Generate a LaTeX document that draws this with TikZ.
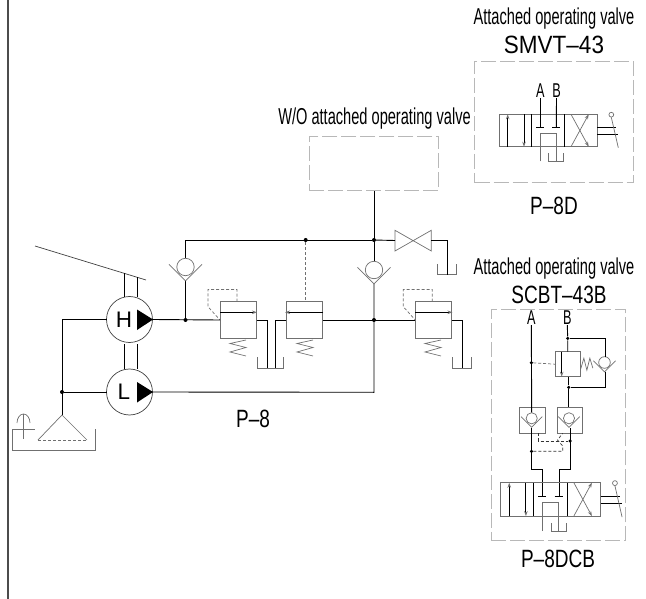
\documentclass[tikz,border=0pt]{standalone}
\usepackage{fontspec}
\setmainfont[FakeStretch=0.76]{Liberation Sans}
\newfontfamily\narrowfont[FakeStretch=0.635]{Liberation Sans}
\newfontfamily\widefont[FakeStretch=0.9]{Liberation Sans}
\newfontfamily\pumpfont{Liberation Sans}
\usetikzlibrary{arrows.meta}
\definecolor{symgray}{HTML}{707070}
\tikzset{
  oil/.style={black,line width=0.9pt},
  sym/.style={symgray,line width=0.7pt},
  symbox/.style={symgray,line width=0.9pt},
  pilot/.style={symgray,line width=0.7pt,dash pattern=on 3pt off 2pt},
  pilotdark/.style={black!80,line width=0.7pt,dash pattern=on 3pt off 2pt},
  frame/.style={black!28,line width=0.7pt,dash pattern=on 15pt off 4pt},
  dot/.style={circle,fill=black,inner sep=0pt,minimum size=4pt},
  pump/.style={circle,draw=black!75,line width=0.7pt,minimum size=46pt,inner sep=0pt,outer sep=0pt},
  valvebox/.style={draw=symgray,line width=0.9pt,inner sep=0pt,outer sep=0pt},
  caption/.style={inner sep=0pt,font=\narrowfont\fontsize{23}{23}\selectfont},
  bigcaption/.style={inner sep=0pt,font=\fontsize{25}{25}\selectfont},
  widecaption/.style={inner sep=0pt,font=\widefont\fontsize{25}{25}\selectfont},
  portlabel/.style={inner sep=0pt,font=\narrowfont\fontsize{20}{20}\selectfont},
  pumpletter/.style={inner sep=0pt,font=\pumpfont\fontsize{22.5}{22.5}\selectfont},
  tip/.style={-{Stealth[length=5pt,width=3.5pt,color=symgray]}},
  checkv/.pic={
    \draw[sym] (0,0) circle (#1);
    \draw[sym] (-1.9*#1,-0.3*#1) -- (0,1.6*#1) -- (1.9*#1,-0.3*#1);
  },
  spring/.pic={
    \draw[sym] (16,0) -- (0,3.5) -- (16,7.5) -- (0,12) -- (16,16);
  },
  dirvalve/.pic={
    \draw[symbox] (0,0) rectangle (98,32.4);
    \draw[oil] (32.4,0) -- (32.4,32.4) (65,0) -- (65,32.4);
    \draw[oil,tip] (8.4,32.4) -- (8.4,0);
    \draw[oil,tip] (24.7,0) -- (24.7,32.4);
    \draw[sym,tip] (71.7,32.4) -- (89.4,0);
    \draw[sym,tip] (71.7,0) -- (89.4,32.4);
    % closed ports
    \draw[oil] (36.8,13) -- (44.8,13) (52.8,13) -- (60.8,13);
    % return path and tank
    \draw[sym] (41,47) -- (41,19) -- (57,19) -- (57,47);
    \draw[sym] (49.4,39) -- (49.4,47) -- (64.4,47) -- (64.4,39);
    % lever
    \draw[oil] (98,13.4) -- (117,13.4) (98,20.4) -- (118.7,20.4);
    \draw[sym] (112,3) -- (119,33.4);
    \draw[sym] (112,0.4) circle (2.4);
  }
}
\begin{document}
\begin{tikzpicture}[x=1pt,y=-1pt]
  \useasboundingbox (0,0) rectangle (646,599);

  % Sheet edge on the left
  \draw[black!70,line width=1.6pt] (8,0) -- (8,599);

  % Pumps H and L
  \node[pump] (pumpH) at (129.5,319.5) {};
  \node[pump] (pumpL) at (129.5,392) {};
  \node[pumpletter] (letterH) at (124,319.5) {H};
  \node[pumpletter] (letterL) at (124,392) {L};
  \fill (137,309.5) -- (153,319.5) -- (137,330) -- cycle;
  \fill (137,382) -- (153,392) -- (137,402.5) -- cycle;

  % Swash plate and shaft stubs
  \draw[sym,black!75] (35,246) -- (146,280);
  \draw[oil] (124,273) -- (124,296.5) (137,277) -- (137,296.5);
  \draw[oil] (124,344) -- (124,368.5) (137,344) -- (137,368.5);

  % Junctions
  \node[dot] (jsuction) at (62,392) {};
  \node[dot] (jH) at (185.5,320) {};
  \node[dot] (jtop) at (305.7,240) {};
  \node[dot] (jmid) at (374,240) {};
  \node[dot] (jout) at (374,320) {};
  \coordinate (apex) at (62,415);
  \coordinate (jL) at (374,392.3);

  % Suction side with strainer and tank
  \draw[oil] (pumpH.west) -- (62,319.5) -- (apex);
  \draw[oil] (pumpL.west) -- (jsuction);
  \draw[sym] (38,440) -- (apex) -- (87,440);
  \draw[pilot] (38,440) -- (87,440);
  \draw[sym] (12.5,429) -- (12.5,450) -- (95,450) -- (95,429);
  \draw[sym] (12.5,429) -- (35,429) (23.5,414) -- (23.5,439);
  \draw[sym] (17,423) arc[start angle=180,end angle=360,x radius=6.5,y radius=9];

  % Relief valves
  \node[valvebox,minimum width=36.5pt,minimum height=36.5pt] (reliefA) at (238.3,320) {};
  \node[valvebox,minimum width=36.5pt,minimum height=36.5pt] (reliefB) at (304.5,320) {};
  \node[valvebox,minimum width=36.5pt,minimum height=36.5pt] (reliefC) at (433.5,320) {};
  \draw[oil,tip] (220,312.3) -- (257,312.3);
  \draw[oil,tip] (323,312.3) -- (285,312.3);
  \draw[oil,tip] (415.3,312.3) -- (452.5,312.3);
  \pic at (230,340) {spring};
  \pic at (297,340) {spring};
  \pic at (425,340) {spring};
  \draw[pilot] (237,301.7) -- (237,289.5) -- (208,289.5) -- (208,306.7) -- (220,320);
  \draw[pilot] (432.3,301.7) -- (432.3,289.5) -- (403.3,289.5) -- (403.3,306.7) -- (415.3,320);
  \draw[pilot] (jtop) -- (305.7,301.7);

  % Pressure lines
  \draw[oil] (pumpL.east) -- (jL) -- (374,284);
  \draw[oil] (pumpH.east) -- (reliefA.west);
  \draw[oil] (reliefB.east) -- (reliefC.west);
  \draw[oil] (jH) -- (185.5,281);
  \draw[oil] (185.5,258) -- (185.5,240) -- (jmid);
  \draw[oil] (374,190.3) -- (374,261);

  % Lines to the tanks
  \draw[oil] (reliefA.east) -- (267,320) -- (267,368);
  \draw[oil] (reliefB.west) -- (275.3,320) -- (275.3,368);
  \draw[oil] (reliefC.east) -- (462.3,320) -- (462.3,368.3);
  \foreach \xa/\xb/\ya/\yb in {257.7/283.7/357/368, 452.7/471.7/357.3/368.3, 437.7/456.3/264/274.7}
    \draw[sym] (\xa,\ya) -- (\xa,\yb) -- (\xb,\yb) -- (\xb,\ya);

  % Check valves
  \pic at (185.5,267) {checkv=8.7};
  \pic at (374,270) {checkv=8.7};

  % Stop valve
  \draw[sym] (395,230.3) -- (431.3,251) -- (431.3,230.3) -- (395,251) -- cycle;
  \draw[oil] (jmid) -- (395,240.5);
  \draw[oil] (431.3,240.5) -- (447.7,240.5) -- (447.7,274.7);

  % Block without operating valve
  \node[frame,draw,minimum width=129.4pt,minimum height=54.3pt,inner sep=0pt] (blockP) at (374,163.1) {};
  \node[caption] (captionWO) at (374.5,118.5) {W/O attached operating valve};
  \node[bigcaption] (nameP) at (253,419) {P–8};

  % SMVT-43
  \node[caption] (captionD) at (554,18.5) {Attached operating valve};
  \node[widecaption] (typeD) at (554,44.5) {SMVT–43};
  \node[frame,draw,minimum width=159pt,minimum height=121.4pt,inner sep=0pt] (blockD) at (554.2,122) {};
  \node[bigcaption] (nameD) at (554,205.5) {P–8D};
  \node[portlabel] (portA) at (540.3,91) {A};
  \node[portlabel] (portB) at (556.5,91) {B};
  \pic at (499.3,114.3) {dirvalve};
  \draw[oil] (portA.south) -- (540.3,127.3);
  \draw[oil] (portB.south) -- (556.3,127.3);

  % SCBT-43B
  \node[caption] (captionC) at (554,269) {Attached operating valve};
  \node[bigcaption] (typeC) at (559,295) {SCBT–43B};
  \node[frame,draw,minimum width=134.4pt,minimum height=230.7pt,inner sep=0pt] (blockC) at (558.5,424.7) {};
  \node[bigcaption] (nameC) at (558,559) {P–8DCB};
  \node[portlabel] (portCA) at (531.3,318) {A};
  \node[portlabel] (portCB) at (567.3,318) {B};

  % Reducing valve and its bypass check
  \node[valvebox,minimum width=25.3pt,minimum height=25pt] (reducer) at (567.7,364.2) {};
  \draw[oil,tip] (561.7,351.7) -- (561.7,376.7);
  \draw[sym] (reducer.east) ++(0,6) -- ++(3.5,-12) -- ++(3,12) -- ++(3,-12) -- ++(3,10);
  \pic at (604.5,362.5) {checkv=5.8};
  \node[dot,minimum size=3.5pt] (jB) at (567.7,338.3) {};
  \node[dot,minimum size=3.5pt] (jC) at (568.7,387.3) {};
  \node[dot,minimum size=3.5pt] (jA) at (531.3,362.7) {};
  \draw[oil] (portCB.south) -- (jB) -- (reducer.north);
  \draw[oil] (jB) -- (605.5,338.3) -- (605.5,356.7);
  \draw[oil] (605.5,371.5) -- (605.5,387.3) -- (jC);
  \draw[oil] (568.7,376.7) -- (jC) -- (568.7,407.3);
  \draw[pilot] (jA) -- (reducer.west);

  % Check blocks
  \node[valvebox,minimum width=25.7pt,minimum height=26pt] (checkA) at (532.2,420.3) {};
  \node[valvebox,minimum width=25.7pt,minimum height=26pt] (checkB) at (569.8,420.3) {};
  \pic at (531.7,418.3) {checkv=5.6};
  \pic at (569,418.3) {checkv=5.6};
  \draw[oil] (portCA.south) -- (531.7,412.7);
  \draw[oil] (531.5,428) -- (531.5,469.3) -- (542.3,469.3) -- (542.3,496.7);
  \draw[oil] (570,428) -- (570,469.3) -- (559.3,469.3) -- (559.3,496.7);

  % Cross pilots
  \node[dot,minimum size=3.5pt] (jD) at (570,441) {};
  \node[dot,minimum size=3.5pt] (jE) at (531.5,451.3) {};
  \draw[pilotdark] (538.3,433.3) -- (538.3,441) -- (jD);
  \draw[pilotdark] (jE) -- (562.7,451.3) -- (562.7,446) -- (557.5,440) -- (562.7,433.3);

  % Main directional valve
  \pic[xscale=1.02,yscale=1.03] at (500.7,482.7) {dirvalve};
\end{tikzpicture}
\end{document}
